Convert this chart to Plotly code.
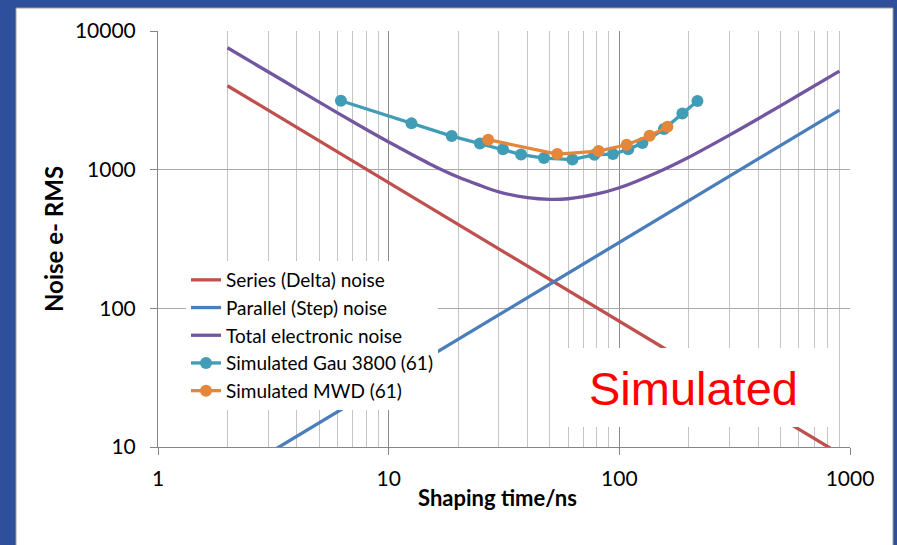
import plotly.graph_objects as go

# ---- data ----
series_x = [2, 900]
series_noise = [4030, 8.96]

parallel_x = [2, 900]
parallel_noise = [5.98, 2690]

total_x = [2, 3, 4, 6, 8, 10, 15, 20, 25, 30, 40, 50, 60, 80, 100, 150, 200, 300, 400, 600, 900]
total_noise = [7570, 5080, 3830, 2570, 1950, 1585, 1105, 885, 768, 692, 628, 611, 617, 668, 740,
               975, 1230, 1775, 2330, 3455, 5140]

gau_x = [6.21, 12.56, 18.76, 24.87, 31.3, 37.5, 47.1, 62.6, 78.0, 93.8, 109.3, 125.9, 156.1, 187.7, 218.1]
gau_noise = [3139, 2157, 1747, 1543, 1401, 1285, 1212, 1183, 1281, 1296, 1401, 1555, 1962, 2546, 3123]

mwd_x = [27.0, 53.8, 81.3, 107.6, 135.3, 161.6]
mwd_noise = [1645, 1296, 1362, 1512, 1753, 2039]

x_major = [1, 10, 100, 1000]
x_major_labels = ["1", "10", "100", "1000"]
x_minor = [2, 3, 4, 5, 6, 7, 8, 9, 20, 30, 40, 50, 60, 70, 80, 90, 200, 300, 400, 500, 600, 700, 800, 900]
y_major = [10, 100, 1000, 10000]
y_major_labels = ["10", "100", "1000", "10000"]

# ---- styling ----
W, H = 897, 545
L, R, T, B = 158, 850, 31, 447
pw, ph = R - L, B - T


def px(x):
    return (x - L) / pw


def py(y):
    return (B - y) / ph


c_red = "#C0504D"
c_blue = "#4A7EBB"
c_purple = "#7356A0"
c_teal = "#409DB5"
c_orange = "#E5873A"

fig = go.Figure()
fig.add_trace(go.Scatter(x=series_x, y=series_noise, mode="lines", name="Series (Delta) noise",
                         line=dict(color=c_red, width=3.3)))
fig.add_trace(go.Scatter(x=parallel_x, y=parallel_noise, mode="lines", name="Parallel (Step) noise",
                         line=dict(color=c_blue, width=3.3)))
fig.add_trace(go.Scatter(x=total_x, y=total_noise, mode="lines", name="Total electronic noise",
                         line=dict(color=c_purple, width=3.3, shape="spline")))
fig.add_trace(go.Scatter(x=gau_x, y=gau_noise, mode="lines+markers", name="Simulated Gau 3800 (61)",
                         line=dict(color=c_teal, width=3.3), marker=dict(size=12, color=c_teal)))
fig.add_trace(go.Scatter(x=mwd_x, y=mwd_noise, mode="lines+markers", name="Simulated MWD (61)",
                         line=dict(color=c_orange, width=3.3), marker=dict(size=12, color=c_orange)))

font_fam = "Lato, Carlito, Calibri, sans-serif"
tick_font = dict(family=font_fam, size=21, color="#000000")

fig.update_layout(
    width=W, height=H,
    margin=dict(l=L, r=W - R, t=T, b=H - B),
    paper_bgcolor="#2D4F9C",
    plot_bgcolor="rgba(0,0,0,0)",
    showlegend=True,
    legend=dict(x=px(186), y=py(261), xanchor="left", yanchor="top",
                bgcolor="#FFFFFF", borderwidth=0,
                font=dict(family=font_fam, size=19, color="#000000")),
    xaxis=dict(type="log", range=[0, 3], tickvals=x_major, ticktext=x_major_labels,
               showgrid=True, gridcolor="#8C8C8C", gridwidth=1,
               showline=True, linecolor="#868686", linewidth=1,
               ticks="outside", ticklen=7, tickcolor="#868686",
               tickfont=tick_font, zeroline=False, ticklabelstandoff=6,
               minor=dict(tickvals=x_minor, showgrid=True, gridcolor="#C4C4C4", gridwidth=1, ticks="")),
    yaxis=dict(type="log", range=[1, 4], tickvals=y_major, ticktext=y_major_labels,
               showgrid=True, gridcolor="#A8A8A8", gridwidth=1,
               showline=True, linecolor="#868686", linewidth=1,
               ticks="outside", ticklen=7, tickcolor="#868686",
               tickfont=tick_font, zeroline=False, ticklabelstandoff=10),
    shapes=[
        dict(type="rect", xref="paper", yref="paper", layer="below",
             x0=px(16), x1=px(893), y0=py(560), y1=py(8),
             fillcolor="#FFFFFF", line=dict(color="#A0A0A0", width=1)),
        dict(type="rect", xref="paper", yref="paper", layer="above",
             x0=px(556), x1=px(829), y0=py(427), y1=py(348),
             fillcolor="#FFFFFF", line=dict(width=0)),
    ],
    annotations=[
        dict(text="Simulated", xref="paper", yref="paper", x=px(693), y=py(388),
             xanchor="center", yanchor="middle", showarrow=False,
             font=dict(family="Liberation Sans, Arial, sans-serif", size=47, color="#FF0000")),
        dict(text="<b>Noise e- RMS</b>", xref="paper", yref="paper", x=px(53), y=py(239),
             xanchor="center", yanchor="middle", showarrow=False, textangle=-90,
             font=dict(family=font_fam, size=24, color="#000000")),
        dict(text="<b>Shaping time/ns</b>", xref="paper", yref="paper", x=px(497), y=py(498),
             xanchor="center", yanchor="middle", showarrow=False,
             font=dict(family=font_fam, size=22, color="#000000")),
    ],
)

fig.write_html("out.html")
